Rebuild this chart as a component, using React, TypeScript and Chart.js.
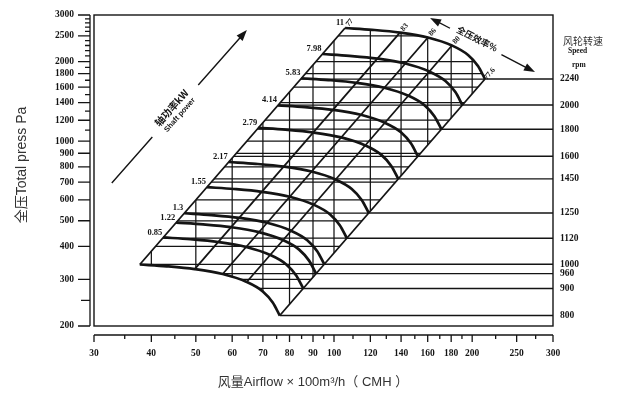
import React, { useEffect, useRef } from "react";
import { Chart, registerables } from "chart.js";

Chart.register(...registerables);

// ---- axis ticks ----
const airflowTicks = [30, 40, 50, 60, 70, 80, 90, 100, 120, 140, 160, 180, 200, 250, 300];
const airflowMinorTicks = [35, 45, 55, 65, 75, 85, 95, 110, 130, 150, 170, 190, 225, 275];
const pressureTicks = [200, 300, 400, 500, 600, 700, 800, 900, 1000, 1200, 1400, 1600, 1800, 2000, 2500, 3000];
const pressureMinorTicks = [250, 1100, 1300, 1500, 1700, 1900, 2100, 2200, 2300, 2400, 2600, 2700, 2800, 2900];

// ---- grid inside the performance region ----
const regionGridQ = [40, 50, 60, 70, 80, 90, 100, 120, 140, 160, 180, 200];
const regionGridP = [300, 400, 500, 600, 700, 800, 900, 1000, 1200, 1400, 1600, 1800, 2000, 2500];

// ---- fan curves (airflow x100 m3/h, total pressure Pa) ----
const speedsRpm = [2240, 2000, 1800, 1600, 1450, 1250, 1120, 1000, 960, 900, 800];
const shaftPowerKw = ["11", "7.98", "5.83", "4.14", "2.79", "2.17", "1.55", "1.3", "1.22", "0.85", ""];

const q2240 = [105.7, 121.0, 139.2, 160.2, 180.7, 195.9, 205.9, 213.3];
const p2240 = [2679, 2637, 2574, 2466, 2300, 2118, 1924, 1718];
const q2000 = [94.38, 108.04, 124.29, 143.04, 161.34, 174.91, 183.84, 190.45];
const p2000 = [2135.7, 2102.2, 2052.0, 1965.9, 1833.5, 1688.5, 1533.8, 1369.6];
const q1800 = [84.94, 97.23, 111.86, 128.73, 145.21, 157.42, 165.46, 171.4];
const p1800 = [1729.9, 1702.8, 1662.1, 1592.4, 1485.2, 1367.6, 1242.4, 1109.4];
const q1600 = [75.5, 86.43, 99.43, 114.43, 129.07, 139.93, 147.07, 152.36];
const p1600 = [1366.8, 1345.4, 1313.3, 1258.2, 1173.5, 1080.6, 981.6, 876.5];
const q1450 = [68.42, 78.33, 90.11, 103.7, 116.97, 126.81, 133.28, 138.07];
const p1450 = [1122.6, 1105.0, 1078.6, 1033.3, 963.8, 887.5, 806.2, 719.9];
const q1250 = [58.98, 67.52, 77.68, 89.4, 100.84, 109.32, 114.9, 119.03];
const p1250 = [834.2, 821.2, 801.5, 767.9, 716.2, 659.6, 599.1, 535.0];
const q1120 = [52.85, 60.5, 69.6, 80.1, 90.35, 97.95, 102.95, 106.65];
const p1120 = [669.8, 659.3, 643.5, 616.5, 575.0, 529.5, 481.0, 429.5];
const q1000 = [47.19, 54.02, 62.14, 71.52, 80.67, 87.46, 91.92, 95.22];
const p1000 = [533.9, 525.5, 513.0, 491.5, 458.4, 422.1, 383.4, 342.4];
const q960 = [45.3, 51.86, 59.66, 68.66, 77.44, 83.96, 88.24, 91.41];
const p960 = [492.1, 484.4, 472.8, 452.9, 422.4, 389.0, 353.4, 315.6];
const q900 = [42.47, 48.62, 55.93, 64.37, 72.6, 78.71, 82.73, 85.7];
const p900 = [432.5, 425.7, 415.5, 398.1, 371.3, 341.9, 310.6, 277.3];
const q800 = [37.75, 43.21, 49.71, 57.21, 64.54, 69.96, 73.54, 76.18];
const p800 = [341.7, 336.4, 328.3, 314.5, 293.4, 270.2, 245.4, 219.1];

const curveQ = [q2240, q2000, q1800, q1600, q1450, q1250, q1120, q1000, q960, q900, q800];
const curveP = [p2240, p2000, p1800, p1600, p1450, p1250, p1120, p1000, p960, p900, p800];

// ---- iso-efficiency lines (total pressure efficiency %) ----
const efficiencyLabels = ["77", "83", "86", "80", "77.6"];
const efficiencyTopQ = [105.7, 139.2, 160.2, 180.7, 213.3];
const efficiencyTopP = [2679, 2574, 2466, 2300, 1718];
const efficiencyBottomQ = [37.75, 49.71, 57.21, 64.54, 76.18];
const efficiencyBottomP = [341.7, 328.3, 314.5, 293.4, 219.1];

// ---- annotation arrows (data coordinates) ----
const shaftArrowQ = [32.8, 64.6];
const shaftArrowP = [695, 2633];
const effArrowQ = [161.9, 274.1];
const effArrowP = [2923, 1826];

const AXIS_MAX_Q = 300;

const serifBold = (s: number) => `bold ${s}px "Liberation Serif", "DejaVu Serif", serif`;
const cjkBold = (s: number) => `bold ${s}px "Noto Sans CJK SC", "Liberation Sans", sans-serif`;
const sansCjk = (s: number) => `${s}px "Liberation Sans", "Noto Sans CJK SC", sans-serif`;
const INK = "#141414";

function arrowHead(ctx: CanvasRenderingContext2D, x: number, y: number, ang: number, len: number, half: number) {
  const c = Math.cos(ang), s = Math.sin(ang);
  ctx.beginPath();
  ctx.moveTo(x, y);
  ctx.lineTo(x - len * c + half * s, y - len * s - half * c);
  ctx.lineTo(x - len * c - half * s, y - len * s + half * c);
  ctx.closePath();
  ctx.fill();
}

const nomoPlugin = {
  id: "nomogram",
  beforeDatasetsDraw(chart: any) {
    const { ctx, chartArea: a, scales } = chart;
    const X = (q: number) => scales.x.getPixelForValue(q);
    const Y = (p: number) => scales.y.getPixelForValue(p);
    ctx.save();
    ctx.beginPath();
    q800.forEach((q, i) => (i ? ctx.lineTo(X(q), Y(p800[i])) : ctx.moveTo(X(q), Y(p800[i]))));
    for (let i = q2240.length - 1; i >= 0; i--) ctx.lineTo(X(q2240[i]), Y(p2240[i]));
    ctx.closePath();
    ctx.clip();
    ctx.strokeStyle = INK;
    ctx.lineWidth = 1.25;
    ctx.beginPath();
    const hLevels = regionGridP.concat(curveP.map((p) => p[p.length - 1]));
    hLevels.forEach((p) => {
      const y = Y(p);
      ctx.moveTo(a.left, y);
      ctx.lineTo(a.right, y);
    });
    regionGridQ.forEach((q) => {
      const x = X(q);
      ctx.moveTo(x, a.top);
      ctx.lineTo(x, a.bottom);
    });
    ctx.stroke();
    ctx.restore();
  },
  afterDraw(chart: any) {
    const { ctx, chartArea: a, scales } = chart;
    const X = (q: number) => scales.x.getPixelForValue(q);
    const Y = (p: number) => scales.y.getPixelForValue(p);
    ctx.save();
    ctx.strokeStyle = INK;
    ctx.fillStyle = INK;

    // frame
    ctx.lineWidth = 1.4;
    ctx.strokeRect(a.left, a.top, a.right - a.left, a.bottom - a.top);

    // left axis line + ticks
    const ax = a.left - 4;
    ctx.lineWidth = 1.3;
    ctx.beginPath();
    ctx.moveTo(ax, Y(3000));
    ctx.lineTo(ax, Y(200));
    pressureTicks.forEach((p) => {
      ctx.moveTo(ax - 12, Y(p));
      ctx.lineTo(ax, Y(p));
    });
    pressureMinorTicks.forEach((p) => {
      ctx.moveTo(ax - (p === 250 ? 9 : 5), Y(p));
      ctx.lineTo(ax, Y(p));
    });
    ctx.stroke();

    // bottom axis line + ticks
    const ay = a.bottom + 9;
    ctx.beginPath();
    ctx.moveTo(X(30), ay);
    ctx.lineTo(X(300), ay);
    airflowTicks.forEach((q) => {
      ctx.moveTo(X(q), ay);
      ctx.lineTo(X(q), ay + 7);
    });
    airflowMinorTicks.forEach((q) => {
      ctx.moveTo(X(q), ay);
      ctx.lineTo(X(q), ay + 4);
    });
    ctx.stroke();

    // shaft power labels at the left start of each curve
    ctx.font = serifBold(8.5);
    ctx.textAlign = "right";
    ctx.textBaseline = "middle";
    curveQ.forEach((qs, i) => {
      if (!shaftPowerKw[i]) return;
      ctx.fillText(shaftPowerKw[i], X(qs[0]) - 1, Y(curveP[i][0]) - 5);
    });

    // rpm labels on the right
    ctx.font = serifBold(9.5);
    ctx.textAlign = "left";
    curveP.forEach((ps, i) => {
      ctx.fillText(String(speedsRpm[i]), a.right + 7, Y(ps[ps.length - 1]));
    });

    // efficiency labels at the top of each iso-efficiency line
    ctx.font = serifBold(7.5);
    ctx.textAlign = "center";
    efficiencyLabels.forEach((lab, i) => {
      const tx = X(efficiencyTopQ[i]), ty = Y(efficiencyTopP[i]);
      const bx = X(efficiencyBottomQ[i]), by = Y(efficiencyBottomP[i]);
      const dx = tx - bx, dy = ty - by, len = Math.hypot(dx, dy);
      const ux = dx / len, uy = dy / len;
      ctx.save();
      ctx.translate(tx + ux * 7, ty + uy * 7);
      ctx.rotate(Math.atan2(uy, ux));
      ctx.fillText(lab, 0, 0);
      ctx.restore();
    });

    // shaft power arrow
    {
      const x0 = X(shaftArrowQ[0]), y0 = Y(shaftArrowP[0]);
      const x1 = X(shaftArrowQ[1]), y1 = Y(shaftArrowP[1]);
      const dx = x1 - x0, dy = y1 - y0, ang = Math.atan2(dy, dx);
      ctx.lineWidth = 1.4;
      ctx.beginPath();
      ctx.moveTo(x0, y0);
      ctx.lineTo(x0 + dx * 0.3, y0 + dy * 0.3);
      ctx.moveTo(x0 + dx * 0.64, y0 + dy * 0.64);
      ctx.lineTo(x1 - Math.cos(ang) * 6, y1 - Math.sin(ang) * 6);
      ctx.stroke();
      arrowHead(ctx, x1, y1, ang, 11, 4);
      ctx.save();
      ctx.translate(x0 + dx * 0.47, y0 + dy * 0.47);
      ctx.rotate(ang);
      ctx.textAlign = "center";
      ctx.textBaseline = "middle";
      ctx.font = cjkBold(10);
      ctx.fillText("轴功率kW", 0, -5);
      ctx.font = `bold 7.5px "Liberation Sans", sans-serif`;
      ctx.fillText("Shaft power", 0, 6);
      ctx.restore();
    }

    // efficiency arrow
    {
      const x0 = X(effArrowQ[0]), y0 = Y(effArrowP[0]);
      const x1 = X(effArrowQ[1]), y1 = Y(effArrowP[1]);
      const dx = x1 - x0, dy = y1 - y0, ang = Math.atan2(dy, dx);
      ctx.lineWidth = 1.4;
      ctx.beginPath();
      ctx.moveTo(x0 + Math.cos(ang) * 6, y0 + Math.sin(ang) * 6);
      ctx.lineTo(x0 + dx * 0.19, y0 + dy * 0.19);
      ctx.moveTo(x0 + dx * 0.68, y0 + dy * 0.68);
      ctx.lineTo(x1 - Math.cos(ang) * 6, y1 - Math.sin(ang) * 6);
      ctx.stroke();
      arrowHead(ctx, x1, y1, ang, 11, 4);
      arrowHead(ctx, x0, y0, ang + Math.PI, 11, 4);
      ctx.save();
      ctx.translate(x0 + dx * 0.435, y0 + dy * 0.435);
      ctx.rotate(ang);
      ctx.textAlign = "center";
      ctx.textBaseline = "middle";
      ctx.font = cjkBold(9);
      ctx.fillText("全压效率%", 0, -3);
      ctx.restore();
    }

    // right header
    ctx.textAlign = "left";
    ctx.textBaseline = "middle";
    ctx.fillStyle = "#333";
    ctx.font = `10px "Noto Sans CJK SC", sans-serif`;
    ctx.fillText("风轮转速", a.right + 10, 41);
    ctx.fillStyle = INK;
    ctx.font = serifBold(7.5);
    ctx.fillText("Speed", a.right + 15, 51);
    ctx.fillText("rpm", a.right + 19, 65);

    // axis titles
    ctx.fillStyle = "#333";
    ctx.font = sansCjk(13);
    ctx.textAlign = "center";
    ctx.fillText("风量Airflow × 100m³/h（ CMH ）", 313, 382);
    ctx.save();
    ctx.translate(22, 165);
    ctx.rotate(-Math.PI / 2);
    ctx.font = sansCjk(14);
    ctx.fillText("全压Total press Pa", 0, 0);
    ctx.restore();

    ctx.restore();
  },
};

export default function App() {
  const ref = useRef<HTMLCanvasElement | null>(null);
  useEffect(() => {
    if (!ref.current) return;
    const datasets: any[] = [];
    efficiencyLabels.forEach((lab, i) => {
      datasets.push({
        label: `η ${lab}%`,
        data: [
          { x: efficiencyBottomQ[i], y: efficiencyBottomP[i] },
          { x: efficiencyTopQ[i], y: efficiencyTopP[i] },
        ],
        borderColor: INK,
        borderWidth: 1.8,
        pointRadius: 0,
        tension: 0,
      });
    });
    curveQ.forEach((qs, i) => {
      const ps = curveP[i];
      datasets.push({
        label: `${speedsRpm[i]} rpm line`,
        data: [
          { x: qs[qs.length - 1], y: ps[ps.length - 1] },
          { x: AXIS_MAX_Q, y: ps[ps.length - 1] },
        ],
        borderColor: INK,
        borderWidth: 1.4,
        pointRadius: 0,
      });
    });
    curveQ.forEach((qs, i) => {
      datasets.push({
        label: `${speedsRpm[i]} rpm`,
        data: qs.map((q, j) => ({ x: q, y: curveP[i][j] })),
        borderColor: INK,
        borderWidth: 2.7,
        pointRadius: 0,
        cubicInterpolationMode: "monotone",
      });
    });

    const chart = new Chart(ref.current, {
      type: "line",
      data: { datasets },
      options: {
        animation: false,
        responsive: false,
        devicePixelRatio: 1,
        layout: { padding: { left: 0, top: 15, right: 64, bottom: 0 } },
        plugins: { legend: { display: false }, tooltip: { enabled: false } },
        scales: {
          x: {
            type: "logarithmic",
            min: 30,
            max: 300,
            grid: { display: false, drawTicks: false },
            border: { display: false },
            afterBuildTicks: (s: any) => {
              s.ticks = airflowTicks.map((v) => ({ value: v }));
            },
            afterFit: (s: any) => {
              s.height = 70;
              s.paddingLeft = 0;
              s.paddingRight = 0;
            },
            ticks: {
              autoSkip: false,
              maxRotation: 0,
              padding: 22,
              color: INK,
              font: { family: '"Liberation Serif", serif', weight: "bold", size: 9.5 },
              callback: (v: any) => String(v),
            },
          },
          y: {
            type: "logarithmic",
            min: 200,
            max: 3000,
            grid: { display: false, drawTicks: false },
            border: { display: false },
            afterBuildTicks: (s: any) => {
              s.ticks = pressureTicks.map((v) => ({ value: v }));
            },
            afterFit: (s: any) => {
              s.width = 94;
              s.paddingTop = 0;
              s.paddingBottom = 0;
            },
            ticks: {
              autoSkip: false,
              padding: 20,
              color: INK,
              font: { family: '"Liberation Serif", serif', weight: "bold", size: 9.5 },
              callback: (v: any) => String(v),
            },
          },
        },
      },
      plugins: [nomoPlugin],
    } as any);
    return () => chart.destroy();
  }, []);
  return (
    <div style={{ position: "absolute", left: 0, top: 0, width: 617, height: 396, background: "#fff" }}>
      <canvas ref={ref} width={617} height={396} style={{ display: "block" }} />
    </div>
  );
}
